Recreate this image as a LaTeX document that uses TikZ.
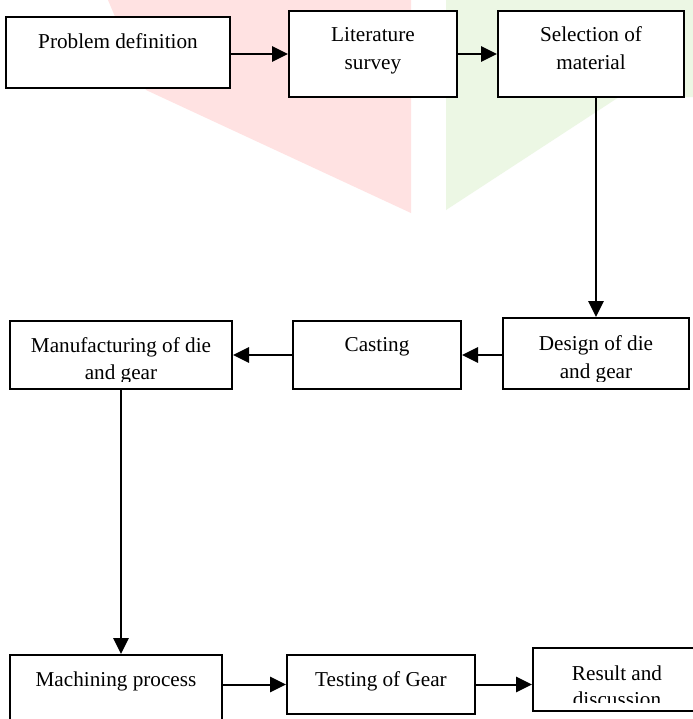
\documentclass[tikz,border=0pt]{standalone}
\usepackage{fontspec}
\setmainfont{Liberation Serif}
\usetikzlibrary{arrows.meta,calc}
\definecolor{wmpink}{RGB}{255,226,226}
\definecolor{wmgreen}{RGB}{236,247,228}
\tikzset{
  box/.style={draw=black, fill=white, line width=1.5pt, inner sep=0pt, rectangle},
  lbl/.style={inner sep=0pt, anchor=base, font=\fontsize{15.9pt}{21pt}\selectfont},
  arr/.style={line width=1.5pt, -{Triangle[length=12pt,width=11.5pt]}},
}
\begin{document}
\begin{tikzpicture}[x=0.75pt,y=-0.75pt]
\useasboundingbox (0,0) rectangle (693,719);
\clip (0,0) rectangle (693,719);
\fill[white] (0,0) rectangle (693,719);
% faint background watermark
\fill[wmpink] (108,0) -- (411,0) -- (411,213) -- (146,90) -- cycle;
\fill[wmgreen] (446,0) -- (693,0) -- (693,97) -- (619,97) -- (446,210) -- cycle;

% boxes
\node[box, minimum width=168pt, minimum height=53.25pt] (pd) at (118,52.5) {};
\node[box, minimum width=126pt, minimum height=64.5pt] (lit) at (373,54) {};
\node[box, minimum width=139.5pt, minimum height=64.5pt] (sel) at (591,54) {};
\node[box, minimum width=139.5pt, minimum height=53.25pt] (des) at (596,353.5) {};
\node[box, minimum width=126pt, minimum height=51pt] (cas) at (377,355) {};
\node[box, minimum width=166.5pt, minimum height=51pt] (man) at (121,355) {};
\node[box, minimum width=159pt, minimum height=67.5pt] (mac) at (116,700) {};
\node[box, minimum width=141pt, minimum height=44.25pt] (tes) at (381,684.5) {};
\node[box, minimum width=126pt, minimum height=47.25pt] (res) at (617,679.5) {};

% labels
\node[lbl] (pdA) at (118,48) {Problem definition};
\node[lbl] (litA) at (373,41) {Literature};
\node[lbl] (litB) at (373,69) {survey};
\node[lbl] (selA) at (591,41) {Selection of};
\node[lbl] (selB) at (591,69) {material};
\begin{scope}
  \clip ($(des.south west)+(0,-9)$) rectangle (des.north east);
  \node[lbl] (desA) at (596,350) {Design of die};
  \node[lbl] (desB) at (596,378) {and gear};
\end{scope}
\node[lbl] (casA) at (377,351) {Casting};
\begin{scope}
  \clip ($(man.south west)+(0,-8.5)$) rectangle (man.north east);
  \node[lbl] (manA) at (121,352) {Manufacturing of die};
  \node[lbl] (manB) at (121,379) {and gear};
\end{scope}
\node[lbl] (macA) at (116,686) {Machining process};
\node[lbl] (tesA) at (381,686) {Testing of Gear};
\begin{scope}
  \clip ($(res.south west)+(0,-10)$) rectangle (res.north east);
  \node[lbl] (resA) at (617,680) {Result and};
  \node[lbl] (resB) at (617,706) {discussion};
\end{scope}

% connectors
\draw[arr] (pd.east |- lit.west) -- (lit.west);
\draw[arr] (lit.east) -- (sel.west);
\draw[arr] (sel.south -| des.north) -- (des.north);
\draw[arr] (des.west |- cas.east) -- (cas.east);
\draw[arr] (cas.west) -- (man.east);
\draw[arr] (man.south) -- (man.south |- mac.north);
\draw[arr] (mac.east |- tes.west) -- (tes.west);
\draw[arr] (tes.east) -- (res.west |- tes.east);
\end{tikzpicture}
\end{document}
